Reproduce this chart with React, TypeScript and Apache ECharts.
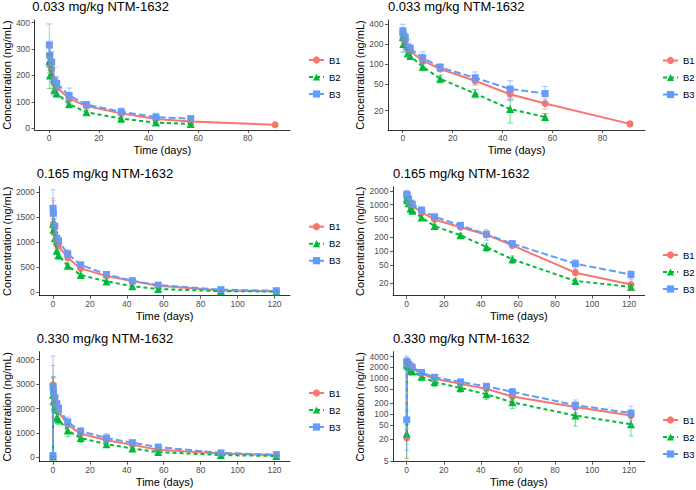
import React, { useEffect, useRef } from "react";
import * as echarts from "echarts";

// ---------- data ----------
const GROUPS = ["B1", "B2", "B3"];
const TITLES = ["0.033 mg/kg NTM-1632", "0.165 mg/kg NTM-1632", "0.330 mg/kg NTM-1632"];

// 0.033 mg/kg
const T_033_B1 = [0.04, 0.25, 1, 2, 3, 8, 15, 29, 43, 57, 91];
const T_033_B23 = [0.04, 0.25, 1, 2, 3, 8, 15, 29, 43, 57];
const B1_033 = [275, 240, 222, 170, 155, 112, 84, 56, 35, 25.5, 12.6];
const B1_033_SD = [35, 30, 25, 18, 14, 10, 7, 6, 5, 4.5, 1];
const B2_033 = [255, 200, 205, 145, 132, 91, 60, 36, 21, 16];
const B2_033_SD = [25, 50, 30, 20, 15, 12, 8, 5, 8, 2];
const B3_033 = [315, 275, 250, 180, 170, 124, 89, 62, 42, 36];
const B3_033_SD = [80, 55, 40, 50, 25, 28, 12, 14, 14, 10];

// 0.165 mg/kg
const T_165 = [0.04, 0.25, 1, 2, 3, 8, 15, 29, 43, 57, 91, 121];
const B1_165 = [1580, 1367, 1180, 960, 930, 690, 478, 325, 225, 132, 34, 18.8];
const B1_165_SD = [300, 200, 100, 80, 80, 60, 40, 30, 30, 15, 5, 5];
const B2_165 = [1370, 1250, 1080, 830, 740, 530, 346, 218, 122, 66, 22.5, 16.7];
const B2_165_SD = [100, 100, 120, 150, 80, 60, 30, 20, 25, 12, 3, 2];
const B3_165 = [1680, 1580, 1320, 1080, 1030, 770, 550, 358, 230, 144, 53, 31];
const B3_165_SD = [370, 250, 150, 120, 100, 80, 50, 40, 60, 20, 12, 6];

// 0.330 mg/kg
const T_330 = [0, 0.04, 0.25, 1, 2, 3, 8, 15, 29, 43, 57, 91, 121];
const B1_330 = [22, 2970, 2700, 2450, 2160, 1870, 1340, 970, 700, 510, 310, 160, 93];
const B1_330_SD = [17, 800, 600, 400, 300, 250, 200, 150, 100, 80, 60, 50, 25];
const B2_330 = [29, 2560, 2300, 2090, 1620, 1550, 1100, 790, 540, 359, 215, 92, 53];
const B2_330_SD = [23, 700, 400, 300, 200, 200, 250, 200, 130, 100, 70, 45, 28];
const B3_330 = [70, 2900, 2700, 2450, 2200, 2020, 1450, 1070, 790, 600, 420, 180, 108];
const B3_330_SD = [60, 1250, 600, 400, 300, 250, 200, 150, 180, 100, 100, 70, 60];

// tick labels
const X_TICKS_SHORT = [0, 20, 40, 60, 80];
const X_TICKS_LONG = [0, 20, 40, 60, 80, 100, 120];
const Y_LIN_033 = [0, 100, 200, 300, 400];
const Y_LOG_033 = [20, 50, 100, 200, 400];
const Y_LIN_165 = [0, 500, 1000, 1500, 2000];
const Y_LOG_165 = [20, 50, 100, 200, 500, 1000, 2000];
const Y_LIN_330 = [0, 1000, 2000, 3000, 4000];
const Y_LOG_330 = [5, 20, 50, 100, 200, 500, 1000, 2000, 4000];

// ---------- assembly ----------
const DOSES = [
  {
    title: TITLES[0],
    groups: [
      { t: T_033_B1, v: B1_033, sd: B1_033_SD },
      { t: T_033_B23, v: B2_033, sd: B2_033_SD },
      { t: T_033_B23, v: B3_033, sd: B3_033_SD },
    ],
  },
  {
    title: TITLES[1],
    groups: [
      { t: T_165, v: B1_165, sd: B1_165_SD },
      { t: T_165, v: B2_165, sd: B2_165_SD },
      { t: T_165, v: B3_165, sd: B3_165_SD },
    ],
  },
  {
    title: TITLES[2],
    groups: [
      { t: T_330, v: B1_330, sd: B1_330_SD },
      { t: T_330, v: B2_330, sd: B2_330_SD },
      { t: T_330, v: B3_330, sd: B3_330_SD },
    ],
  },
];

const COLORS = ["#F8766D", "#00BA38", "#619CFF"];
const SYMBOLS = ["circle", "triangle", "rect"];
const SYMBOL_SIZES = [7, 8, 7];
const DASHES: any[] = ["solid", [4, 3], [7, 3]];
const FONT = "'Liberation Sans', Arial, sans-serif";
const CAP = 1.25;

const PANELS = [
  { dose: 0, log: false, grid: { left: 32.3, top: 20, width: 257.7, height: 110 }, x: [-5.9, 97], y: [-7, 410], xt: X_TICKS_SHORT, yt: Y_LIN_033, legend: [308, 54], nameGap: 21 },
  { dose: 0, log: true, grid: { left: 388, top: 20, width: 257, height: 110 }, x: [-5.9, 97], y: [10.2, 457], xt: X_TICKS_SHORT, yt: Y_LOG_033, legend: [662, 54.5], nameGap: 21.5 },
  { dose: 1, log: false, grid: { left: 36.7, top: 186.7, width: 253.3, height: 109 }, x: [-7.4, 128.4], y: [-68, 2112], xt: X_TICKS_LONG, yt: Y_LIN_165, legend: [308, 220.7], nameGap: 25.7 },
  { dose: 1, log: true, grid: { left: 393, top: 186.7, width: 251.7, height: 109 }, x: [-7.4, 128.4], y: [10.8, 2450], xt: X_TICKS_LONG, yt: Y_LOG_165, legend: [662, 249], nameGap: 26.5 },
  { dose: 2, log: false, grid: { left: 36.7, top: 351.7, width: 253.3, height: 110 }, x: [-7.4, 128.4], y: [-180, 4330], xt: X_TICKS_LONG, yt: Y_LIN_330, legend: [308, 387], nameGap: 25.7 },
  { dose: 2, log: true, grid: { left: 393, top: 351.7, width: 251.7, height: 110 }, x: [-7.4, 128.4], y: [4.8, 5500], xt: X_TICKS_LONG, yt: Y_LOG_330, legend: [662, 414], nameGap: 26.5 },
];

function buildOption() {
  const grids: any[] = [];
  const xAxes: any[] = [];
  const yAxes: any[] = [];
  const titles: any[] = [];
  const legends: any[] = [];
  const series: any[] = [];

  PANELS.forEach((p, i) => {
    const dose = DOSES[p.dose];
    grids.push({ ...p.grid, containLabel: false });
    titles.push({
      text: dose.title,
      left: p.grid.left,
      top: p.grid.top - 20,
      padding: 0,
      textStyle: { fontFamily: FONT, fontSize: 13, fontWeight: "normal", color: "#000" },
    });
    legends.push({
      data: GROUPS,
      orient: "vertical",
      left: p.legend[0],
      top: p.legend[1],
      itemWidth: 15,
      itemHeight: 9,
      itemGap: 5,
      padding: 0,
      selectedMode: false,
      textStyle: { fontFamily: FONT, fontSize: 9.5, color: "#000", lineHeight: 12 },
    });
    xAxes.push({
      type: "value",
      gridIndex: i,
      min: p.x[0],
      max: p.x[1],
      name: "Time (days)",
      nameLocation: "middle",
      nameGap: 14.5,
      nameTextStyle: { fontFamily: FONT, fontSize: 11, color: "#000" },
      axisLine: { show: true, onZero: false, lineStyle: { color: "#000", width: 0.8 } },
      axisTick: { show: true, length: 3, customValues: p.xt, lineStyle: { color: "#333", width: 0.8 } },
      axisLabel: { customValues: p.xt, fontFamily: FONT, fontSize: 8.5, color: "#4D4D4D", margin: 3.5 },
      splitLine: { show: false },
    });
    yAxes.push({
      type: p.log ? "log" : "value",
      logBase: 10,
      gridIndex: i,
      min: p.y[0],
      max: p.y[1],
      name: "Concentration (ng/mL)",
      nameLocation: "middle",
      nameGap: p.nameGap,
      nameTextStyle: { fontFamily: FONT, fontSize: 11, color: "#000" },
      axisLine: { show: true, onZero: false, lineStyle: { color: "#000", width: 0.8 } },
      axisTick: { show: true, length: 3, customValues: p.yt, lineStyle: { color: "#333", width: 0.8 } },
      axisLabel: {
        customValues: p.yt,
        fontFamily: FONT,
        fontSize: 8.5,
        color: "#4D4D4D",
        margin: 4.5,
        formatter: (v: number) => String(Math.round(v)),
      },
      splitLine: { show: false },
    });

    dose.groups.forEach((g, k) => {
      const color = COLORS[k];
      series.push({
        type: "line",
        name: GROUPS[k],
        xAxisIndex: i,
        yAxisIndex: i,
        data: g.t.map((t, j) => [t, g.v[j]]),
        symbol: SYMBOLS[k],
        symbolSize: SYMBOL_SIZES[k],
        color,
        itemStyle: { color },
        lineStyle: { color, width: 2, type: DASHES[k] },
        z: 2 + k * 0.1,
      });
    });
    dose.groups.forEach((g, k) => {
      const color = COLORS[k];
      const lowFloor = p.log ? p.y[0] : -Infinity;
      series.push({
        type: "custom",
        name: "eb" + i + "_" + k,
        xAxisIndex: i,
        yAxisIndex: i,
        z: 3,
        encode: { x: 0, y: [1, 2] },
        data: g.t.map((t, j) => [t, Math.max(g.v[j] - g.sd[j], lowFloor), g.v[j] + g.sd[j]]),
        renderItem: (params: any, api: any) => {
          const t = api.value(0);
          const lo = api.value(1);
          const hi = api.value(2);
          const pTop = api.coord([t, hi]);
          const pBot = api.coord([t, lo]);
          const l = api.coord([t - CAP, hi])[0];
          const r = api.coord([t + CAP, hi])[0];
          const style = { stroke: color, lineWidth: 0.9, opacity: 0.6 };
          return {
            type: "group",
            children: [
              { type: "line", shape: { x1: pTop[0], y1: pTop[1], x2: pBot[0], y2: pBot[1] }, style },
              { type: "line", shape: { x1: l, y1: pTop[1], x2: r, y2: pTop[1] }, style },
              { type: "line", shape: { x1: l, y1: pBot[1], x2: r, y2: pBot[1] }, style },
            ],
          };
        },
      });
    });
  });

  return {
    animation: false,
    backgroundColor: "#fff",
    textStyle: { fontFamily: FONT },
    title: titles,
    legend: legends,
    grid: grids,
    xAxis: xAxes,
    yAxis: yAxes,
    series,
  };
}

export default function App() {
  const ref = useRef<HTMLDivElement>(null);
  useEffect(() => {
    if (!ref.current) return;
    const chart = echarts.init(ref.current, undefined, { renderer: "svg" });
    chart.setOption(buildOption() as any);
    return () => chart.dispose();
  }, []);
  return (
    <div
      ref={ref}
      style={{ position: "fixed", left: 0, top: 0, width: 696, height: 490, background: "#fff" }}
    />
  );
}
